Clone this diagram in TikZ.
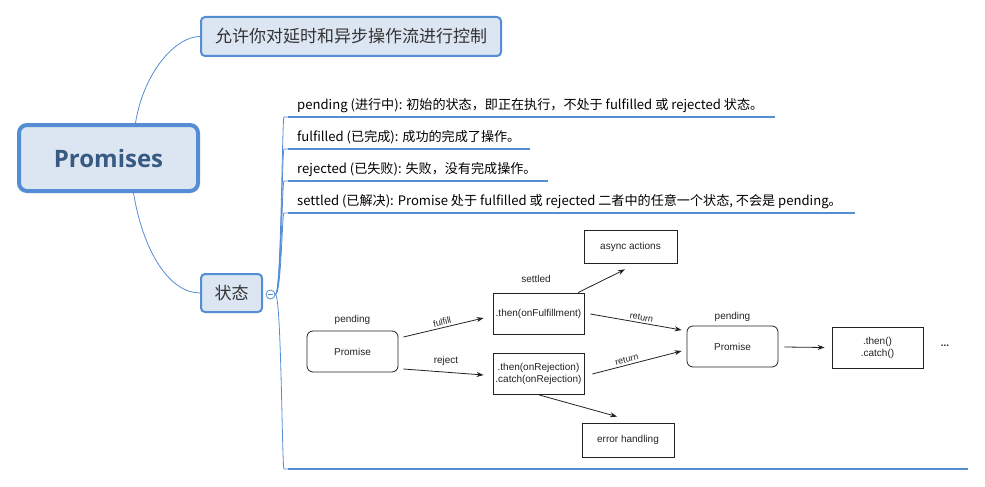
\documentclass[tikz,border=0pt]{standalone}
\usepackage{fontspec}
\setmainfont{Liberation Sans}
\newfontfamily\cjk{Noto Sans CJK SC}
\newfontfamily\osans{Open Sans}
\usetikzlibrary{arrows.meta,calc}
\definecolor{mmblue}{RGB}{84,141,212}
\definecolor{mmfill}{RGB}{220,230,242}
\definecolor{mmtext}{RGB}{51,51,51}
\definecolor{roottext}{RGB}{55,90,130}
\definecolor{dgray}{RGB}{34,34,34}
\begin{document}
\begin{tikzpicture}[x=1pt,y=-1pt,
  topic/.style={draw=mmblue,fill=mmfill,rounded corners=4pt,line width=2pt,inner sep=0pt,
    font=\cjk\fontsize{17}{20}\selectfont,text=mmtext},
  branch/.style={draw=mmblue,line width=0.8pt},
  uline/.style={draw=mmblue,line width=2.6pt},
  item/.style={font=\cjk\fontsize{13.1}{15}\selectfont,text=black,inner sep=0pt,anchor=base west},
  pbox/.style={draw=dgray,line width=0.8pt,rounded corners=6pt,minimum width=91pt,minimum height=41pt,
    inner sep=0pt,font=\fontsize{10}{12}\selectfont,text=dgray,align=center},
  sbox/.style={draw=dgray,line width=0.8pt,inner sep=0pt,font=\fontsize{10}{12}\selectfont,text=dgray,align=center},
  lbl/.style={font=\fontsize{10}{12}\selectfont,text=dgray,inner sep=0pt},
  slbl/.style={font=\fontsize{9}{11}\selectfont,text=dgray,inner sep=0pt},
  arr/.style={draw=dgray,line width=0.8pt,-{Stealth[length=7pt,width=5pt]}}
]
\useasboundingbox (0,0) rectangle (985,487);

% ---- mind map topics
\node[topic,line width=4pt,rounded corners=8pt,minimum width=179pt,minimum height=66pt,
  font=\osans\bfseries\fontsize{24}{28}\selectfont,text=roottext] (root) at (108.5,158) {Promises};
\node[topic,minimum width=300pt,minimum height=39pt] (top) at (351,36.5) {允许你对延时和异步操作流进行控制};
\node[topic,minimum width=61pt,minimum height=38pt] (state) at (231.5,293) {状态};
\node[circle,draw=mmblue,fill=white,line width=0.8pt,minimum size=9pt,inner sep=0pt] (col) at (270.5,294.5) {};
\draw[mmblue,line width=0.8pt] ($(col.center)+(-2.5,0)$) -- ($(col.center)+(2.5,0)$);

\draw[branch] ([xshift=27pt]root.north) .. controls ++(8,-50) and ++(-25,0) .. (top.west);
\draw[branch] ([xshift=25pt]root.south) .. controls ++(10,60) and ++(-30,0) .. (state.west);

% ---- children of 状态
\node[item] (i1) at (297,109) {pending (进行中): 初始的状态，即正在执行，不处于 fulfilled 或 rejected 状态。};
\node[item] (i2) at (297,141.5) {fulfilled (已完成): 成功的完成了操作。};
\node[item] (i3) at (297,173.5) {rejected (已失败): 失败，没有完成操作。};
\node[item] (i4) at (297,205.5) {settled (已解决): Promise 处于 fulfilled 或 rejected 二者中的任意一个状态, 不会是 pending。};

\coordinate (u1) at (288,117);
\coordinate (u2) at (288,149);
\coordinate (u3) at (288,181);
\coordinate (u4) at (288,213);
\coordinate (u5) at (288,469);
\draw[uline] (u1) -- (775,117);
\draw[uline] (u2) -- (530,149);
\draw[uline] (u3) -- (548,181);
\draw[uline] (u4) -- (855,213);
\draw[uline] (u5) -- (968,469);
\foreach \u in {u1,u2,u3,u4,u5}
  \draw[branch] (col.east) .. controls ++(6,0) and ($(\u)+(-6,0)$) .. ($(\u)+(-4,0)$) -- (\u);

% ---- promise diagram
\node[pbox] (p1) at (352.5,351.5) {Promise};
\node[lbl] (p1l) at (352.5,320) {pending};
\node[sbox,minimum width=91pt,minimum height=41pt] (tf) at (538.5,313.5) {.then(onFulfillment)};
\node[lbl] (tfl) at (536,279) {settled};
\node[sbox,minimum width=91pt,minimum height=41pt] (tr) at (538.5,373.5) {.then(onRejection)\\.catch(onRejection)};
\node[sbox,minimum width=93pt,minimum height=33pt] (aa) at (630.5,246.5) {async actions};
\node[sbox,minimum width=92pt,minimum height=34pt] (eh) at (628,440) {error handling};
\node[pbox] (p2) at (732.5,346.5) {Promise};
\node[lbl] (p2l) at (732.5,317) {pending};
\node[sbox,minimum width=91pt,minimum height=41pt] (tc) at (877.5,347.5) {.then()\\.catch()};
\node[lbl,font=\bfseries\fontsize{10}{12}\selectfont] (dots) at (945,346) {...};

\draw[arr] ($(p1.east)+(5,-14.5)$) -- node[slbl,sloped,above=2pt,pos=0.5] {fulfill} ($(tf.west)+(-9,4.5)$);
\draw[arr] ($(p1.east)+(5,17.5)$) -- ($(tr.west)+(-9,1.5)$);
\node[lbl] (rej) at (446,361) {reject};
\draw[arr] ($(tf.north)+(39.5,0)$) -- ($(aa.south)+(-5.5,6)$);
\draw[arr] ($(tr.south)+(0.5,0.5)$) -- ($(eh.north)+(-11,-6)$);
\draw[arr] ($(tf.east)+(6,0.5)$) -- node[slbl,sloped,above=2pt,pos=0.55] {return} ($(p2.west)+(-5,-16.5)$);
\draw[arr] ($(tr.east)+(8,0.5)$) -- node[slbl,sloped,above=2pt,pos=0.4] {return} ($(p2.west)+(-5,4.5)$);
\draw[arr] ($(p2.east)+(6,0.5)$) -- ($(tc.west)+(-7,0)$);
\end{tikzpicture}
\end{document}
